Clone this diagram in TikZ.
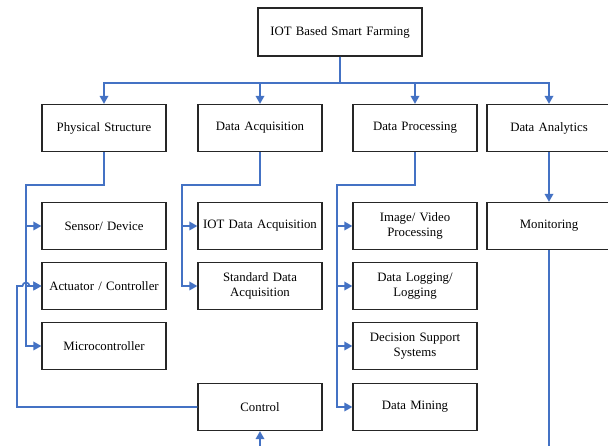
\documentclass[tikz,border=0pt]{standalone}
\usepackage{fontspec}
\setmainfont{Liberation Serif}
\usepackage{xcolor}
\usepackage{tikz}
\usetikzlibrary{positioning, arrows.meta, calc}
\definecolor{linkblue}{HTML}{4472C4}
\definecolor{boxgray}{HTML}{262626}
\tikzstyle{block} = [rectangle, draw=boxgray, line width=1.2pt, fill=white, text width=120pt, align=center, minimum width=124pt, minimum height=47pt, inner sep=0pt, font=\fontsize{12.8}{15}\selectfont]
\tikzstyle{link} = [draw=linkblue, line width=1.7pt]
\tikzstyle{arrow} = [link, -{Triangle[length=8pt,width=8.5pt]}]

\begin{document}
\begin{tikzpicture}[x=1pt, y=-1pt]
    \useasboundingbox (0,0) rectangle (608,446);

    % Root
    \node[block, minimum width=164pt, text width=160pt, minimum height=48pt] (root) at (340,32) {IOT Based Smart Farming};

    % First level
    \node[block] (phys) at (104,128) {Physical Structure};
    \node[block] (acq) at (260,128) {Data Acquisition};
    \node[block] (proc) at (415,128) {Data Processing};
    \node[block] (analytics) at (549,128) {Data Analytics};

    % Physical structure parts
    \node[block] (sensor) at (104,226) {Sensor/ Device};
    \node[block] (actuator) at (104,286) {Actuator / Controller};
    \node[block] (micro) at (104,346) {Microcontroller};

    % Acquisition parts
    \node[block] (iotacq) at (260,226) {IOT Data Acquisition};
    \node[block] (stdacq) at (260,286) {Standard Data\\Acquisition};
    \node[block] (control) at (260,407) {Control};

    % Processing parts
    \node[block] (image) at (415,226) {Image/ Video\\Processing};
    \node[block] (logging) at (415,286) {Data Logging/\\Logging};
    \node[block] (dss) at (415,346) {Decision Support\\Systems};
    \node[block] (mining) at (415,407) {Data Mining};

    % Analytics part
    \node[block] (monitor) at (549,226) {Monitoring};

    % Bends of the connectors
    \coordinate (bus) at (340,83);
    \coordinate (physrail) at (26,185);
    \coordinate (acqrail) at (182,185);
    \coordinate (procrail) at (337,185);
    \coordinate (loop) at (17,407);
    \coordinate (hop) at (22.5,286);
    \coordinate (monout) at (549,446);
    \coordinate (ctrlin) at (260,446);

    % Root to first level
    \draw[arrow] (root.south) -- (bus) -| (phys.north);
    \draw[arrow] (root.south) -- (bus) -| (acq.north);
    \draw[arrow] (root.south) -- (bus) -| (proc.north);
    \draw[arrow] (root.south) -- (bus) -| (analytics.north);

    % Physical structure branch
    \draw[arrow] (phys.south) |- (physrail) |- (sensor.west);
    \draw[arrow] (phys.south) |- (physrail) |- (actuator.west);
    \draw[arrow] (phys.south) |- (physrail) |- (micro.west);

    % Acquisition branch
    \draw[arrow] (acq.south) |- (acqrail) |- (iotacq.west);
    \draw[arrow] (acq.south) |- (acqrail) |- (stdacq.west);

    % Processing branch
    \draw[arrow] (proc.south) |- (procrail) |- (image.west);
    \draw[arrow] (proc.south) |- (procrail) |- (logging.west);
    \draw[arrow] (proc.south) |- (procrail) |- (dss.west);
    \draw[arrow] (proc.south) |- (procrail) |- (mining.west);

    % Analytics branch
    \draw[arrow] (analytics.south) -- (monitor.north);
    \draw[link] (monitor.south) -- (monout);

    % Feedback loop into the actuator
    \draw[arrow] (ctrlin) -- (control.south);
    \draw[arrow] (control.west) -- (loop) |- (hop)
        arc[start angle=180, end angle=360, radius=3.5] -- (actuator.west);

\end{tikzpicture}
\end{document}
